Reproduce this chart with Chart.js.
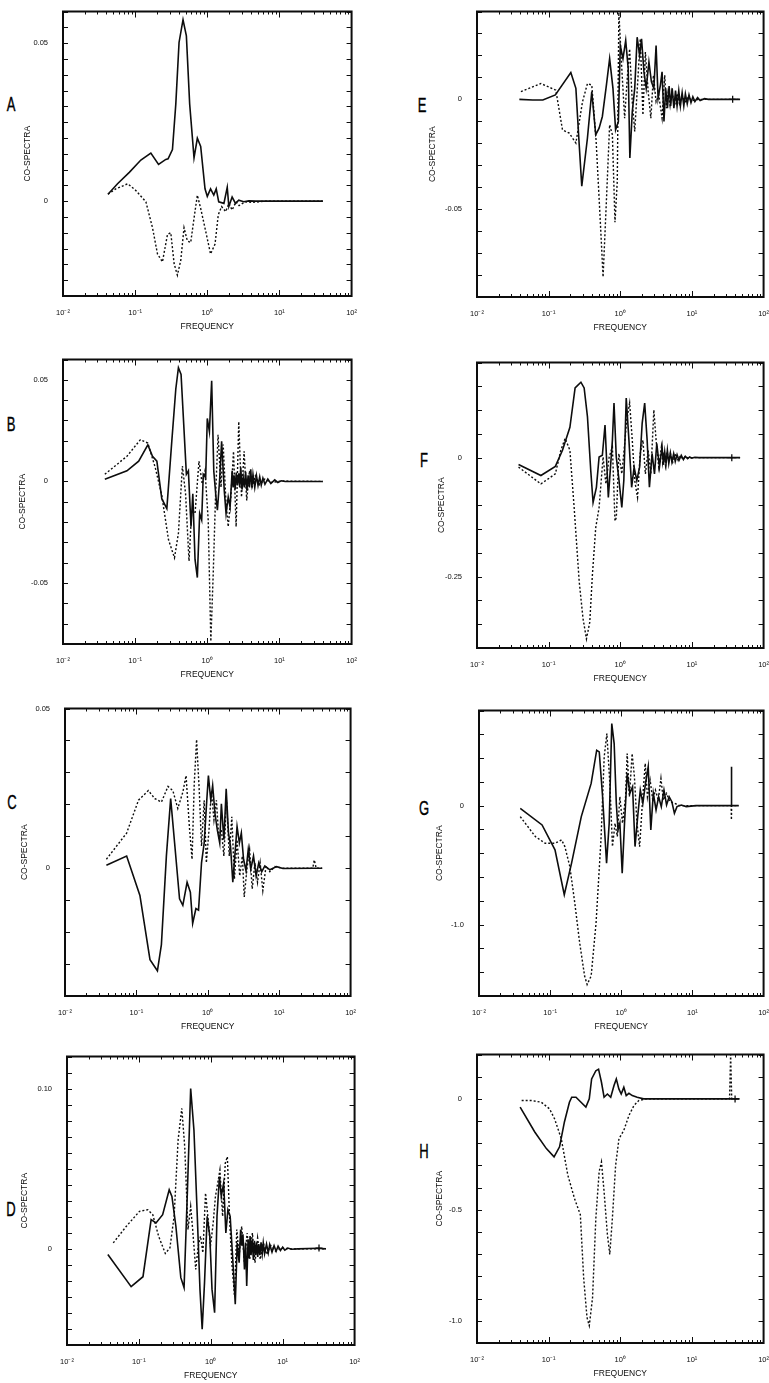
<!DOCTYPE html>
<html><head><meta charset="utf-8">
<script src="https://cdn.jsdelivr.net/npm/chart.js@4.4.1/dist/chart.umd.min.js"></script>
<style>
html,body{margin:0;padding:0;background:#fff;width:769px;height:1383px;overflow:hidden;position:relative}
canvas{position:absolute}
.lbl{position:absolute;font-family:'Liberation Sans',Arial,sans-serif;font-size:21px;line-height:21px;color:#000;transform:translate(-50%,-50%) scaleX(0.62);-webkit-text-stroke:0.4px #000}
</style></head><body>
<div class="lbl" style="left:11px;top:103px">A</div>
<div class="lbl" style="left:11px;top:423px">B</div>
<div class="lbl" style="left:12px;top:801px">C</div>
<div class="lbl" style="left:11px;top:1208px">D</div>
<div class="lbl" style="left:422px;top:104px">E</div>
<div class="lbl" style="left:424px;top:459px">F</div>
<div class="lbl" style="left:424px;top:807px">G</div>
<div class="lbl" style="left:424px;top:1150px">H</div>
<script>
// ---------- x tick labels (frequency, log axis) ----------
const freqTicks = [0.01, 0.1, 1, 10, 100];
const freqTickText = ['10\u207B\u00B2', '10\u207B\u00B9', '10\u2070', '10\u00B9', '10\u00B2'];

// ---------- Panel A ----------
const aSolidFreq = [0.042,0.057,0.083,0.12,0.165,0.211,0.266,0.286,0.329,0.366,0.406,0.461,0.513,0.57,0.655,0.728,0.81,0.93,1.0,1.11,1.23,1.33,1.44,1.7,1.89,1.99,2.21,2.46,2.73,3.2,3.76,4.65,6.3,10.8,40];
const aSolidCo   = [0.0022,0.0055,0.0091,0.013,0.0152,0.0116,0.0132,0.0134,0.0163,0.0307,0.0502,0.0574,0.0523,0.0307,0.0137,0.0199,0.0173,0.0039,0.0015,0.0039,0.0019,0.0039,-0.0002,-0.0007,0.0044,-0.0017,0.0013,-0.0007,0.0003,-0.0002,0.0001,0,0,0,0];
const aDashFreq  = [0.042,0.054,0.079,0.102,0.141,0.174,0.204,0.239,0.281,0.312,0.347,0.385,0.429,0.476,0.53,0.589,0.655,0.728,0.81,0.95,1.11,1.28,1.42,1.58,1.8,1.99,2.21,2.5,2.76,3.35,4.2,6.3,40];
const aDashCo    = [0.0022,0.0039,0.0055,0.0034,-0.0002,-0.0084,-0.0167,-0.0192,-0.0105,-0.01,-0.0198,-0.0234,-0.0187,-0.0084,-0.0126,-0.0131,-0.0054,0.0019,-0.0023,-0.0095,-0.0167,-0.0136,-0.0043,-0.0017,-0.0033,-0.0007,-0.0028,-0.0002,-0.0014,-0.0002,-0.0004,0,0];
const aMarkFreq = []; const aMarkCo = [];
const aYTicks = [0.05, 0]; const aYText = ['0.05', '0'];

// ---------- Panel B ----------
const bSolidFreq = [0.038,0.077,0.112,0.15,0.174,0.2,0.234,0.275,0.322,0.366,0.398,0.433,0.472,0.513,0.547,0.595,0.63,0.676,0.728,0.784,0.836,0.88,0.95,1.0,1.07,1.15,1.23,1.32,1.38,1.48,1.58,1.72,1.82,1.95,2.07,
  2.21,2.28,2.35,2.43,2.52,2.62,2.73,2.82,2.91,3.03,3.15,3.27,3.4,3.54,3.68,3.84,4.0,4.15,4.3,4.55,4.8,5.05,5.33,5.6,5.9,6.3,6.9,7.6,8.6,9.5,10.6,12,14.5,40];
const bSolidCo   = [0.0011,0.0052,0.01,0.018,0.0124,0.01,-0.0085,-0.0134,0.0197,0.0455,0.056,0.0527,0.0277,0.0035,0.0052,-0.0223,-0.0061,-0.0384,-0.0473,-0.0158,-0.019,0.0035,0.0019,0.031,0.0245,0.0495,0.0052,-0.0077,-0.0142,0.0003,0.0197,-0.0045,-0.0158,-0.0077,-0.0126,
  0.0052,-0.003,0.003,-0.004,0.0044,-0.002,0.004,-0.003,0.0068,-0.004,0.002,-0.0029,0.0047,-0.0045,0.003,-0.003,0.006,-0.003,0.0035,-0.0029,0.0029,-0.002,0.0023,-0.0018,0.0016,-0.0014,0.0012,-0.001,0.0008,-0.0005,0.0003,0,0,0];
const bDashFreq  = [0.038,0.077,0.118,0.15,0.19,0.234,0.29,0.351,0.398,0.452,0.5,0.558,0.608,0.676,0.767,0.85,0.93,1.03,1.12,1.21,1.30,1.41,1.55,1.66,1.81,1.95,2.12,2.31,2.51,2.73,2.98,3.24,3.52,3.84,4.17,4.64,5.33,6.24,7.7,10.6,40];
const bDashCo    = [0.0035,0.0124,0.0205,0.0189,0.0068,-0.0069,-0.0287,-0.0376,-0.0255,0.0076,-0.0061,-0.0392,-0.0142,-0.0158,0.01,-0.0013,0.0052,-0.019,-0.0787,-0.0448,-0.0077,0.0229,-0.0029,0.0181,-0.0094,-0.0223,-0.0077,0.0148,-0.0223,0.0294,-0.0077,0.0148,-0.0094,0.0052,-0.0029,0.0027,-0.0016,0.0011,-0.0005,0.0002,0];
const bMarkFreq = []; const bMarkCo = [];
const bYTicks = [0.05, 0, -0.05]; const bYText = ['0.05', '0', '-0.05'];

// ---------- Panel C ----------
const cSolidFreq = [0.038,0.073,0.112,0.155,0.197,0.224,0.263,0.302,0.343,0.402,0.447,0.513,0.57,0.614,0.682,0.742,0.817,0.89,0.968,1.02,1.1,1.17,1.26,1.36,1.47,1.55,1.68,1.81,1.95,2.08,2.24,2.39,2.57,2.77,2.95,3.17,3.43,3.69,4.0,4.37,4.75,5.18,5.7,6.3,7.4,9.2,11.3,31,40];
const cSolidCo   = [0.0009,0.0038,-0.0085,-0.0286,-0.0321,-0.0239,0.0038,0.0218,0.0079,-0.0096,-0.0116,-0.0044,-0.0075,-0.0173,-0.0126,-0.0131,0.0017,0.0079,0.0213,0.029,0.0213,0.0259,0.0172,0.012,0.0079,0.0202,0.0089,0.0249,0.011,0.0069,-0.0044,0.0038,0.013,0.0079,0.011,0.0028,-0.0008,0.0059,-0.0003,0.0038,-0.0024,0.0017,-0.0011,0.0007,-0.0005,0.0005,-0.0001,0,0];
const cDashFreq  = [0.038,0.073,0.107,0.147,0.181,0.224,0.277,0.324,0.38,0.447,0.496,0.552,0.602,0.646,0.697,0.759,0.817,0.89,0.955,1.04,1.12,1.22,1.32,1.42,1.55,1.68,1.83,2.0,2.17,2.36,2.57,2.8,3.05,3.24,3.53,3.85,4.19,4.57,4.97,5.41,5.9,6.55,7.4,8.7,11.3,29.5,31,33,40];
const cDashCo    = [0.0028,0.011,0.0213,0.0243,0.0218,0.0207,0.0256,0.0243,0.0187,0.0238,0.029,0.013,0.0028,0.0264,0.0403,0.0243,0.0069,0.0213,0.0017,0.012,0.0243,0.0151,0.0213,0.01,0.012,0.0038,0.0213,0.0038,0.0161,-0.0034,0.0089,-0.0024,0.0038,-0.009,-0.0003,0.0059,-0.0065,0.0017,-0.0044,0.0017,-0.007,0.0007,-0.0011,0.0005,0,0,0.0026,0,0];
const cMarkFreq = []; const cMarkCo = [];
const cYTicks = [0.05, 0]; const cYText = ['0.05', '0'];

// ---------- Panel D ----------
const dSolidFreq = [0.037,0.078,0.114,0.148,0.173,0.214,0.264,0.288,0.327,0.383,0.425,0.472,0.525,0.583,0.649,0.707,0.759,0.818,0.891,0.969,1.04,1.13,1.22,1.32,1.40,1.51,1.62,1.73,
  1.86,2.01,2.19,2.33,2.48,2.6,2.69,2.8,2.94,3.05,3.16,3.3,3.41,3.52,3.63,3.77,3.91,4.05,4.2,4.35,4.5,4.65,4.82,5.0,5.2,5.37,5.6,5.96,6.3,6.6,7.1,7.59,8.1,8.63,9.3,10,10.7,11.8,13.2,16.3,30.6,40];
const dSolidCo   = [-0.0035,-0.0236,-0.0174,0.0182,0.0161,0.0213,0.0368,0.0327,0.0141,-0.018,-0.0242,0.0348,0.1,0.0741,0.0203,-0.0253,-0.0501,-0.0211,0.0203,0.0079,-0.0253,-0.0398,0.0203,0.0451,0.0327,0.041,0.0099,0.0244,
  0.0203,-0.0046,-0.0346,0.0037,-0.0087,0.012,0.002,0.009,-0.0128,0.004,-0.0232,0.006,-0.006,0.008,-0.004,0.006,-0.007,0.005,-0.004,0.004,-0.005,0.003,-0.004,0.004,-0.003,0.0037,-0.003,0.003,-0.0025,0.0027,-0.002,0.002,-0.0015,0.0017,-0.001,0.001,-0.0008,0.0005,-0.0003,0,0.0004,0];
const dDashFreq  = [0.044,0.067,0.102,0.133,0.156,0.188,0.233,0.27,0.309,0.351,0.395,0.434,0.482,0.525,0.56,0.617,0.67,0.721,0.776,0.845,0.919,0.989,1.08,1.16,1.25,1.34,1.46,1.59,1.70,1.82,1.96,2.14,2.30,2.48,2.69,2.94,3.2,3.48,3.79,4.12,4.48,4.88,5.37,5.96,6.84,7.94,9.55,13.2,40];
const dDashCo    = [0.0037,0.0141,0.0234,0.0244,0.0213,0.0079,-0.0029,0.0006,0.0203,0.0679,0.0876,0.0638,0.012,0.0265,0.012,-0.0128,0.0017,0.0079,-0.0025,0.0348,0.0182,0.0017,0.0161,0.0327,0.041,0.0493,0.0203,0.0534,0.0575,0.0203,-0.0087,-0.0294,0.012,-0.0046,0.0141,-0.0087,0.0099,-0.0066,0.0099,-0.0087,0.0068,-0.0066,0.0037,-0.0035,0.0021,-0.0014,0.0006,0,0];
const dMarkFreq = [32]; const dMarkCo = [0.0005];
const dYTicks = [0.10, 0]; const dYText = ['0.10', '0'];

// ---------- Panel E ----------
const eSolidFreq = [0.039,0.06,0.083,0.124,0.204,0.24,0.267,0.29,0.348,0.4,0.454,0.506,0.562,0.64,0.71,0.79,0.86,0.94,1.0,1.09,1.19,1.29,1.36,1.47,1.59,1.72,1.86,1.98,2.14,2.3,2.51,2.72,2.94,3.16,3.37,3.63,3.83,
  4.07,4.3,4.55,4.8,5.05,5.3,5.6,5.9,6.2,6.55,6.9,7.3,7.7,8.1,8.6,9.1,9.7,10.3,11,12,13,15,17,36,47];
const eSolidCo   = [0,-0.0003,-0.0003,0.002,0.0122,0.005,-0.0206,-0.0395,-0.0176,0.0035,-0.0161,-0.0131,-0.0078,0.0065,0.0185,0.005,-0.0139,-0.0101,0.0245,0.0185,0.0268,0.014,-0.0267,-0.0056,0.005,0.0283,0.02,0.0276,0.0125,0.005,0.017,0.008,0.005,0.0245,0.0005,0.0065,0.0125,
  -0.0101,0.005,-0.004,0.006,-0.003,0.005,-0.004,0.004,-0.003,0.004,-0.003,0.003,-0.003,0.0025,-0.002,0.002,-0.0015,0.0012,-0.001,0.0008,-0.0005,0.0003,0,0,0];
const eDashFreq  = [0.041,0.078,0.126,0.156,0.194,0.24,0.297,0.348,0.4,0.46,0.52,0.575,0.64,0.71,0.776,0.843,0.908,0.955,1.05,1.15,1.25,1.35,1.47,1.59,1.74,1.9,2.07,2.24,2.45,2.67,2.9,3.16,3.44,3.83,
  4.17,4.4,4.64,4.95,5.27,5.7,6.2,6.7,7.24,8,8.9,10,12.4,47];
const eDashCo    = [0.0035,0.0072,0.0042,-0.0139,-0.0154,-0.0199,-0.0011,0.0072,0.0065,-0.019,-0.0523,-0.0809,-0.0462,-0.0116,-0.0161,-0.056,-0.0372,0.0396,0.014,-0.0086,0.0095,0.023,-0.0011,-0.0146,0.0065,0.0276,-0.0071,0.0215,0.0035,-0.0086,0.011,-0.0011,0.002,-0.0086,
  0.011,-0.004,0.003,-0.003,0.0035,-0.003,0.0026,-0.002,0.0015,-0.0012,0.001,-0.0006,0,0];
const eMarkFreq = [37]; const eMarkCo = [0];
const eYTicks = [0, -0.05]; const eYText = ['0', '-0.05'];

// ---------- Panel F ----------
const fSolidFreq = [0.038,0.078,0.124,0.156,0.198,0.234,0.282,0.313,0.348,0.387,0.417,0.464,0.506,0.562,0.612,0.681,0.776,0.817,0.879,0.955,1.05,1.12,1.21,1.32,1.44,1.56,1.70,1.86,2.02,2.19,2.37,2.55,2.78,3.0,3.23,3.52,3.83,
  4.0,4.17,4.35,4.54,4.75,5.0,5.25,5.56,5.85,6.2,6.6,7.1,7.6,8.07,8.7,9.3,10,11,12.5,36,47];
const fSolidCo   = [-0.0142,-0.0375,-0.0184,0.0156,0.0637,0.1466,0.1586,0.1466,0.0864,-0.0269,-0.0942,-0.0623,0.0014,0.005,0.0687,-0.0835,0.0368,0.1147,0.0014,-0.0446,-0.1048,-0.0481,0.1253,0.0368,-0.0623,-0.0198,-0.0481,-0.0198,0.0722,0.1147,0.0368,-0.0623,0.0085,-0.034,0.0297,-0.0198,0.0227,
  -0.015,0.012,-0.0127,0.0156,-0.012,0.01,-0.0092,0.0085,-0.008,0.006,-0.0057,0.005,-0.004,0.003,-0.0021,0.0014,-0.001,0.0007,0,0,0];
const fDashFreq  = [0.038,0.078,0.124,0.148,0.17,0.198,0.227,0.267,0.302,0.337,0.375,0.408,0.454,0.506,0.575,0.63,0.70,0.776,0.843,0.88,0.955,1.05,1.13,1.23,1.35,1.47,1.59,1.74,1.9,2.07,2.24,2.45,2.67,2.94,3.16,3.44,3.75,
  3.9,4.07,4.28,4.5,4.75,5.0,5.4,5.9,6.4,6.9,7.5,8.07,9,10,47];
const fDashCo    = [-0.0198,-0.0552,-0.034,0.0156,0.0404,0.0156,-0.1048,-0.2605,-0.3384,-0.381,-0.3455,-0.2464,-0.1473,-0.1048,0.0014,-0.0552,0.0014,0.0227,-0.1331,-0.126,0.0085,-0.034,0.0156,0.0793,0.1147,0.0368,-0.0481,-0.0835,0.0085,0.0368,-0.034,0.0156,-0.034,0.1005,0.0368,-0.0198,0.0227,
  -0.01,0.012,-0.0163,0.012,-0.008,0.009,-0.0092,0.0085,-0.005,0.004,-0.003,0.0028,-0.0015,0,0];
const fMarkFreq = [36]; const fMarkCo = [0];
const fYTicks = [0, -0.25]; const fYText = ['0', '-0.25'];

// ---------- Panel G ----------
const gSolidFreq = [0.038,0.077,0.117,0.158,0.2,0.274,0.377,0.451,0.49,0.546,0.621,0.676,0.735,0.794,0.851,0.9,0.955,1.03,1.11,1.21,1.32,1.44,1.56,1.70,1.85,2.01,2.19,2.39,2.60,2.82,3.08,3.35,3.65,3.98,4.33,4.71,5.13,5.58,6.07,6.97,8.17,11.2,35.0,35.3,35.6,44.7];
const gSolidCo   = [-0.0223,-0.162,-0.371,-0.749,-0.483,-0.092,0.187,0.466,0.452,0.075,-0.483,-0.148,0.69,0.522,0.0196,-0.204,-0.148,-0.567,-0.148,0.271,0.103,0.159,-0.344,-0.092,0.131,0.0196,0.187,0.327,-0.204,0.103,-0.036,0.075,-0.008,0.131,0.0056,0.075,0.0335,-0.064,-0.008,0.0056,-0.008,0,0,0.327,0,0];
const gDashFreq  = [0.038,0.062,0.085,0.117,0.145,0.161,0.189,0.222,0.26,0.305,0.331,0.377,0.442,0.518,0.575,0.627,0.69,0.752,0.817,0.88,0.955,1.04,1.15,1.21,1.3,1.42,1.53,1.66,1.81,1.99,2.17,2.33,2.54,2.77,3.02,3.31,3.61,3.89,4.33,4.81,5.64,6.61,11.2,35.0,35.3,35.6,44.7];
const gDashCo    = [-0.092,-0.26,-0.316,-0.316,-0.288,-0.344,-0.511,-0.818,-1.153,-1.432,-1.503,-1.432,-0.986,-0.288,0.41,0.606,0.187,-0.344,-0.148,-0.26,0.075,-0.148,0.075,0.438,0.075,0.438,0.243,-0.148,-0.344,0.047,0.355,0.075,0.215,0.047,0.131,0.047,0.229,0.047,0.103,0.0335,0.0196,0,0,0,-0.12,0,0];
const gMarkFreq = []; const gMarkCo = [];
const gYTicks = [0, -1.0]; const gYText = ['0', '-1.0'];

// ---------- Panel H ----------
const hSolidFreq = [0.04,0.064,0.093,0.119,0.142,0.166,0.195,0.21,0.241,0.283,0.331,0.369,0.398,0.456,0.497,0.546,0.594,0.661,0.735,0.817,0.88,0.955,1.03,1.12,1.21,1.32,1.47,1.72,2.12,4.0,33.5,46];
const hSolidCo   = [-0.037,-0.149,-0.224,-0.261,-0.216,-0.104,-0.015,0.0075,0.0075,-0.015,-0.037,0,0.09,0.127,0.134,0.075,0.0075,0.022,0.0075,0.06,0.09,0.045,0.022,0.052,0.015,0.025,0.015,0.0075,0,0,0,0];
const hDashFreq  = [0.042,0.058,0.079,0.103,0.121,0.15,0.185,0.229,0.277,0.308,0.343,0.369,0.41,0.456,0.507,0.546,0.594,0.661,0.713,0.776,0.861,0.959,1.12,1.32,1.55,1.81,2.24,4.0,33.5,34.7,35.9,46];
const hDashCo    = [-0.0075,-0.0075,-0.015,-0.045,-0.09,-0.179,-0.343,-0.448,-0.522,-0.806,-0.985,-1.022,-0.896,-0.537,-0.328,-0.284,-0.418,-0.612,-0.701,-0.537,-0.299,-0.179,-0.142,-0.075,-0.03,-0.0075,0,0,0,0.2,0,0];
const hMarkFreq = [40]; const hMarkCo = [0];
const hYTicks = [0, -0.5, -1.0]; const hYText = ['0', '-0.5', '-1.0'];

// ---------- layout of the 8 panels (plot box in page px) ----------
const panels = [
  {l:63, t:4,    r:355, b:296,  yMin:-0.03, yMax:0.06, step:0.005, titleOff:35, yT:aYTicks, yS:aYText, sf:aSolidFreq, sv:aSolidCo, df:aDashFreq, dv:aDashCo, mf:aMarkFreq, mv:aMarkCo},
  {l:63, t:358,  r:355, b:644,  yMin:-0.08, yMax:0.06, step:0.01,  titleOff:40, yT:bYTicks, yS:bYText, sf:bSolidFreq, sv:bSolidCo, df:bDashFreq, dv:bDashCo, mf:bMarkFreq, mv:bMarkCo},
  {l:65, t:707,  r:354, b:996,  yMin:-0.04, yMax:0.05, step:0.01,  titleOff:40, yT:cYTicks, yS:cYText, sf:cSolidFreq, sv:cSolidCo, df:cDashFreq, dv:cDashCo, mf:cMarkFreq, mv:cMarkCo},
  {l:67, t:1055, r:358, b:1345, yMin:-0.06, yMax:0.12, step:0.01,  titleOff:42, yT:dYTicks, yS:dYText, sf:dSolidFreq, sv:dSolidCo, df:dDashFreq, dv:dDashCo, mf:dMarkFreq, mv:dMarkCo},
  {l:477,t:8,    r:767, b:297,  yMin:-0.09, yMax:0.04, step:0.01,  titleOff:44, yT:eYTicks, yS:eYText, sf:eSolidFreq, sv:eSolidCo, df:eDashFreq, dv:eDashCo, mf:eMarkFreq, mv:eMarkCo},
  {l:477,t:361,  r:767, b:648,  yMin:-0.4,  yMax:0.2,  step:0.05,  titleOff:35, yT:fYTicks, yS:fYText, sf:fSolidFreq, sv:fSolidCo, df:fDashFreq, dv:fDashCo, mf:fMarkFreq, mv:fMarkCo},
  {l:479,t:709,  r:767, b:996,  yMin:-1.6,  yMax:0.8,  step:0.2,   titleOff:39, yT:gYTicks, yS:gYText, sf:gSolidFreq, sv:gSolidCo, df:gDashFreq, dv:gDashCo, mf:gMarkFreq, mv:gMarkCo},
  {l:477,t:1053, r:767, b:1343, yMin:-1.1,  yMax:0.2,  step:0.1,   titleOff:37, yT:hYTicks, yS:hYText, sf:hSolidFreq, sv:hSolidCo, df:hDashFreq, dv:hDashCo, mf:hMarkFreq, mv:hMarkCo}
];

const YW = 60, XH = 42, PADR = 6;
const INK = '#0d0d0d';
const FONT = "'Liberation Sans', Arial, sans-serif";

const boxPlugin = {
  id: 'box',
  afterDatasetsDraw(chart, args, opts) {
    const {ctx, chartArea: a, scales: {x, y}} = chart;
    ctx.save();
    ctx.strokeStyle = INK;
    ctx.lineWidth = 1;
    ctx.beginPath();
    for (let n = -2; n <= 1; n++) for (let m = 1; m <= 9; m++) {
      const px = Math.round(x.getPixelForValue(m * Math.pow(10, n))) + 0.5;
      const L = m === 1 ? 6 : 3;
      ctx.moveTo(px, a.bottom); ctx.lineTo(px, a.bottom - L);
      ctx.moveTo(px, a.top); ctx.lineTo(px, a.top + L);
    }
    const st = opts.step;
    const k0 = Math.ceil(y.min / st - 1e-6), k1 = Math.floor(y.max / st + 1e-6);
    for (let k = k0; k <= k1; k++) {
      const py = Math.round(y.getPixelForValue(k * st)) + 0.5;
      ctx.moveTo(a.left, py); ctx.lineTo(a.left + 5, py);
      ctx.moveTo(a.right, py); ctx.lineTo(a.right - 5, py);
    }
    ctx.stroke();
    ctx.lineWidth = 2;
    ctx.strokeRect(a.left, a.top, a.right - a.left, a.bottom - a.top);
    ctx.restore();
  }
};

function near(a, b) { return Math.abs(a - b) <= 1e-6 * Math.max(1, Math.abs(b)) + 1e-12; }

panels.forEach(p => {
  const padTop = Math.min(10, p.t);
  const cv = document.createElement('canvas');
  const W = YW + (p.r - p.l) + PADR;
  const H = padTop + (p.b - p.t) + XH;
  cv.width = W; cv.height = H;
  cv.style.left = (p.l - YW) + 'px';
  cv.style.top = (p.t - padTop) + 'px';
  cv.style.width = W + 'px'; cv.style.height = H + 'px';
  document.body.appendChild(cv);
  const solid = p.sf.map((f, i) => ({x: f, y: p.sv[i]}));
  const dash = p.df.map((f, i) => ({x: f, y: p.dv[i]}));
  const marks = p.mf.map((f, i) => ({x: f, y: p.mv[i]}));
  new Chart(cv.getContext('2d'), {
    type: 'line',
    data: {datasets: [
      {data: solid, borderColor: INK, borderWidth: 1.6, pointRadius: 0, tension: 0, fill: false},
      {data: dash, borderColor: INK, borderWidth: 1.4, borderDash: [2, 2], pointRadius: 0, tension: 0, fill: false},
      {data: marks, showLine: false, pointStyle: 'cross', pointRadius: 3.5, borderColor: INK, borderWidth: 1.3}
    ]},
    options: {
      responsive: false, animation: false, devicePixelRatio: 1,
      layout: {padding: {left: 0, top: padTop, right: PADR, bottom: 0}},
      plugins: {legend: {display: false}, tooltip: {enabled: false}, box: {step: p.step}},
      scales: {
        x: {
          type: 'logarithmic', min: 0.01, max: 100,
          grid: {display: false}, border: {display: false},
          afterBuildTicks: s => { s.ticks = freqTicks.map(v => ({value: v})); },
          afterFit: s => { s.height = XH; },
          ticks: {autoSkip: false, maxRotation: 0, padding: 4, color: INK,
                  font: {family: FONT, size: 7.5},
                  callback: v => { const i = freqTicks.findIndex(t => near(v, t)); return i >= 0 ? freqTickText[i] : ''; }},
          title: {display: true, text: 'FREQUENCY', color: INK, font: {family: FONT, size: 8.5},
                  padding: {top: 0, bottom: 6}}
        },
        y: {
          type: 'linear', min: p.yMin, max: p.yMax,
          grid: {display: false}, border: {display: false},
          afterBuildTicks: s => { s.ticks = p.yT.map(v => ({value: v})); },
          afterFit: s => { s.width = YW; },
          ticks: {padding: 7, color: INK, font: {family: FONT, size: 7.5},
                  callback: v => { const i = p.yT.findIndex(t => near(v, t)); return i >= 0 ? p.yS[i] : ''; }},
          title: {display: true, text: 'CO-SPECTRA', color: INK, font: {family: FONT, size: 8.5},
                  padding: {top: Math.max(0, YW - p.titleOff - 5.1), bottom: 0}}
        }
      }
    },
    plugins: [boxPlugin]
  });
});
</script>
</body></html>
